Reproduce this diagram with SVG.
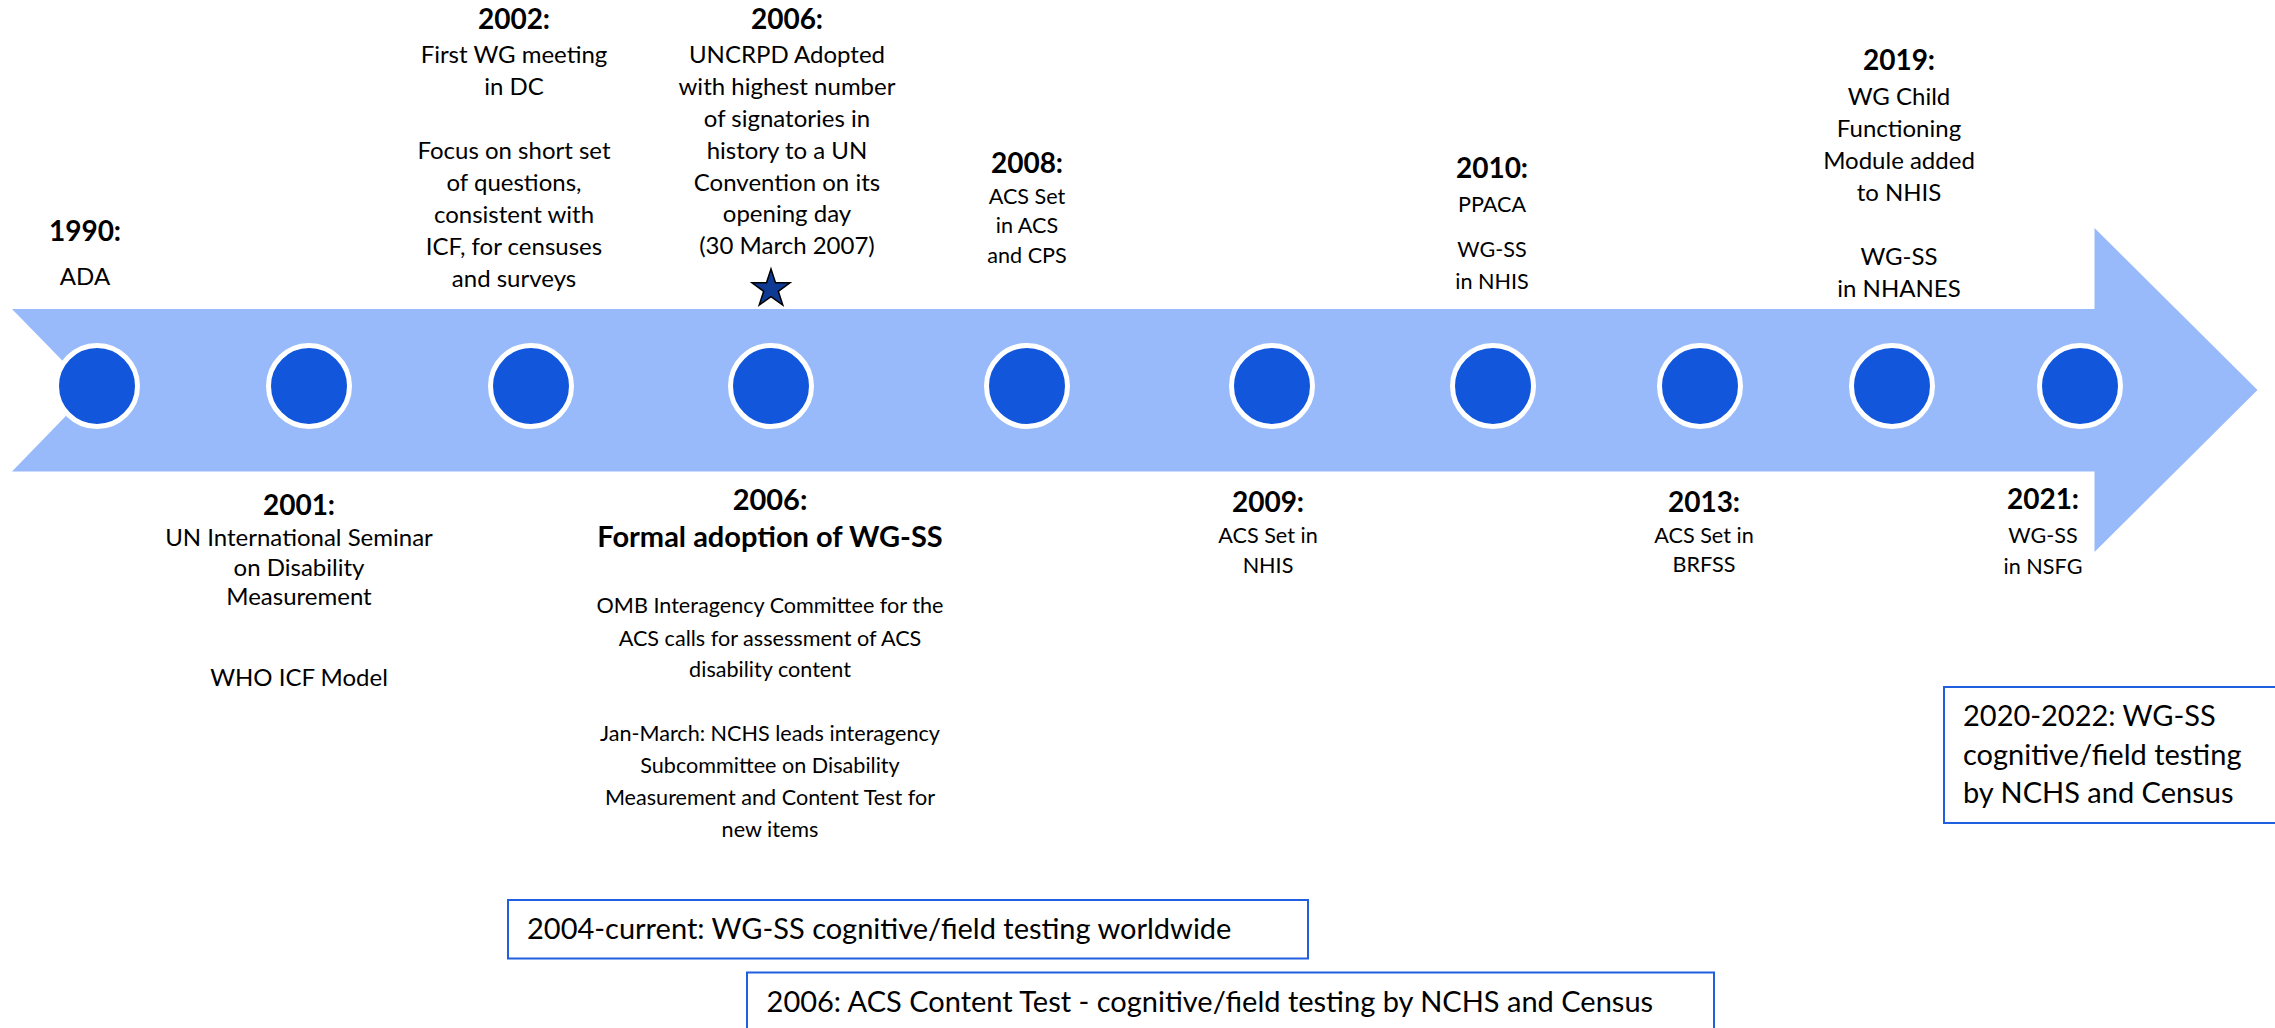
<svg xmlns="http://www.w3.org/2000/svg" width="2275" height="1028" viewBox="0 0 2275 1028">
<style>
text{font-family:Lato,"Liberation Sans",sans-serif;fill:#000}
.c{text-anchor:middle}
.y{font-weight:700;font-size:28px}
.yb{font-weight:700;font-size:29px}
.b1{font-size:24px}
.b2{font-size:21.6px}
.bx{font-size:29px}
.dot{fill:#1256DB;stroke:#fff;stroke-width:5}
.frame{fill:#fff;stroke:#1F5FE0;stroke-width:2}
</style>
<g id="timeline-arrow">
<path d="M12,309 L2094.5,309 L2094.5,228 L2257.5,390 L2094.5,552 L2094.5,471.5 L12,471.5 L91,390 Z" fill="#98BAFB"/>
</g>
<g id="dots">
<circle class="dot" cx="97" cy="386" r="40.5"/>
<circle class="dot" cx="309" cy="386" r="40.5"/>
<circle class="dot" cx="531" cy="386" r="40.5"/>
<circle class="dot" cx="771" cy="386" r="40.5"/>
<circle class="dot" cx="1027" cy="386" r="40.5"/>
<circle class="dot" cx="1272" cy="386" r="40.5"/>
<circle class="dot" cx="1493" cy="386" r="40.5"/>
<circle class="dot" cx="1700" cy="386" r="40.5"/>
<circle class="dot" cx="1892" cy="386" r="40.5"/>
<circle class="dot" cx="2080" cy="386" r="40.5"/>
</g>
<g id="e1990" class="c">
<text class="y" x="85" y="241">1990:</text>
<text class="b1" x="85" y="285">ADA</text>
</g>
<g id="e2002" class="c">
<text class="y" x="514" y="29">2002:</text>
<text class="b1" x="514" y="63">First WG meeting</text>
<text class="b1" x="514" y="95">in DC</text>
<text class="b1" x="514" y="159">Focus on short set</text>
<text class="b1" x="514" y="191">of questions,</text>
<text class="b1" x="514" y="223">consistent with</text>
<text class="b1" x="514" y="255">ICF, for censuses</text>
<text class="b1" x="514" y="287">and surveys</text>
</g>
<g id="e2006a" class="c">
<text class="y" x="787" y="29">2006:</text>
<text class="b1" x="787" y="63">UNCRPD Adopted</text>
<text class="b1" x="787" y="95">with highest number</text>
<text class="b1" x="787" y="127">of signatories in</text>
<text class="b1" x="787" y="159">history to a UN</text>
<text class="b1" x="787" y="191">Convention on its</text>
<text class="b1" x="787" y="222">opening day</text>
<text class="b1" x="787" y="254">(30 March 2007)</text>
<path d="M771,269 L775.5,282.8 L790,282.8 L778.3,291.3 L782.8,305.1 L771,296.6 L759.2,305.1 L763.7,291.3 L752,282.8 L766.5,282.8 Z" fill="#0E3A94" stroke="#000" stroke-width="1.5" stroke-linejoin="miter"/>
</g>
<g id="e2008" class="c">
<text class="y" x="1027" y="173">2008:</text>
<text class="b2" x="1027" y="204">ACS Set</text>
<text class="b2" x="1027" y="233">in ACS</text>
<text class="b2" x="1027" y="263">and CPS</text>
</g>
<g id="e2010" class="c">
<text class="y" x="1492" y="178">2010:</text>
<text class="b2" x="1492" y="212">PPACA</text>
<text class="b2" x="1492" y="257">WG-SS</text>
<text class="b2" x="1492" y="289">in NHIS</text>
</g>
<g id="e2019" class="c">
<text class="y" x="1899" y="70">2019:</text>
<text class="b1" x="1899" y="105">WG Child</text>
<text class="b1" x="1899" y="137">Functioning</text>
<text class="b1" x="1899" y="169">Module added</text>
<text class="b1" x="1899" y="201">to NHIS</text>
<text class="b1" x="1899" y="265">WG-SS</text>
<text class="b1" x="1899" y="297">in NHANES</text>
</g>
<g id="e2001" class="c">
<text class="y" x="299" y="515">2001:</text>
<text class="b1" x="299" y="546">UN International Seminar</text>
<text class="b1" x="299" y="576">on Disability</text>
<text class="b1" x="299" y="605">Measurement</text>
<text class="b1" x="299" y="686">WHO ICF Model</text>
</g>
<g id="e2006b" class="c">
<text class="yb" x="770" y="510">2006:</text>
<text class="yb" x="770" y="547">Formal adoption of WG-SS</text>
<text class="b2" x="770" y="613">OMB Interagency Committee for the</text>
<text class="b2" x="770" y="645.5">ACS calls for assessment of ACS</text>
<text class="b2" x="770" y="677">disability content</text>
<text class="b2" x="770" y="741">Jan-March: NCHS leads interagency</text>
<text class="b2" x="770" y="773">Subcommittee on Disability</text>
<text class="b2" x="770" y="804.5">Measurement and Content Test for</text>
<text class="b2" x="770" y="837">new items</text>
</g>
<g id="e2009" class="c">
<text class="y" x="1268" y="512">2009:</text>
<text class="b2" x="1268" y="543">ACS Set in</text>
<text class="b2" x="1268" y="573">NHIS</text>
</g>
<g id="e2013" class="c">
<text class="y" x="1704" y="512">2013:</text>
<text class="b2" x="1704" y="543">ACS Set in</text>
<text class="b2" x="1704" y="572">BRFSS</text>
</g>
<g id="e2021" class="c">
<text class="y" x="2043" y="509">2021:</text>
<text class="b2" x="2043" y="543">WG-SS</text>
<text class="b2" x="2043" y="574">in NSFG</text>
</g>
<g id="box-2004">
<rect class="frame" x="508" y="900" width="800" height="58.5"/>
<text class="bx" x="527" y="938.7">2004-current: WG-SS cognitive/field testing worldwide</text>
</g>
<g id="box-2006">
<rect class="frame" x="747" y="972.5" width="967" height="80"/>
<text class="bx" x="766.6" y="1011.8">2006: ACS Content Test - cognitive/field testing by NCHS and Census</text>
</g>
<g id="box-2020">
<rect class="frame" x="1944" y="687" width="360" height="136"/>
<text class="bx" x="1963" y="726">2020-2022: WG-SS</text>
<text class="bx" x="1963" y="765">cognitive/field testing</text>
<text class="bx" x="1963" y="803">by NCHS and Census</text>
</g>
</svg>
